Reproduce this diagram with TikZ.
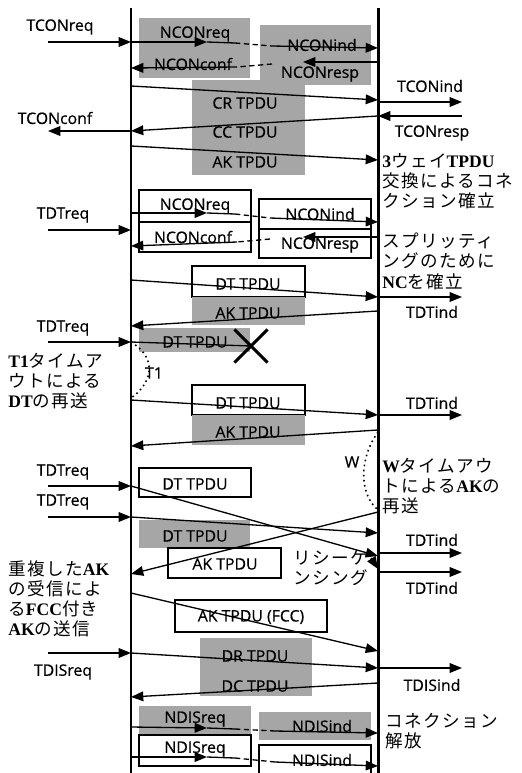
\documentclass[tikz,border=0pt]{standalone}
\usepackage{fontspec}
\usepackage{tikz}
\usetikzlibrary{arrows.meta,shapes.misc}
\setsansfont{Open Sans}[FakeBold=0.6]
\newfontfamily\jpfont{Noto Sans CJK JP}[LetterSpace=8]
\newfontfamily\latfont{Liberation Serif}
\newcommand{\rl}[1]{{\latfont\bfseries #1}}

\tikzset{
  lane/.style={line width=1.7pt},
  msg/.style={line width=0.75pt,-{Triangle[length=7pt,width=5.5pt]}},
  plain/.style={line width=0.75pt},
  dsh/.style={line width=0.75pt,dash pattern=on 3pt off 2pt},
  shade/.style={fill=black!35},
  frame/.style={draw,line width=0.8pt,fill=white},
  lbl/.style={font=\sffamily\fontsize{9}{10}\selectfont,inner sep=0pt},
  note/.style={font=\jpfont\fontsize{10}{11.4}\selectfont,align=left,anchor=north west,inner sep=0pt},
  tmr/.style={line width=0.9pt,dotted}
}

\begin{document}
\begin{tikzpicture}[x=0.02cm,y=-0.02cm]
\useasboundingbox (0,0) rectangle (521,773);

\coordinate (L) at (131,0);
\coordinate (R) at (378,0);
\coordinate (Lo) at (48,0);
\coordinate (Ro) at (462,0);

\fill[shade] (139,18) rectangle (250,78);
\fill[shade] (260,25) rectangle (371,85);
\fill[shade] (192,80) rectangle (305,175);
\draw[frame] (139,190) rectangle (251,222);
\draw[frame] (139,222) rectangle (251,252);
\draw[frame] (259,199) rectangle (371,229);
\draw[frame] (259,229) rectangle (371,258);
\draw[frame] (192,266) rectangle (305,297);
\fill[shade] (192,297) rectangle (305,325);
\fill[shade] (139,328) rectangle (250,352);
\draw[frame] (192,385) rectangle (305,415);
\fill[shade] (192,415) rectangle (305,445);
\draw[frame] (139,468) rectangle (251,497);
\fill[shade] (139,520) rectangle (250,548);
\draw[frame] (168,548) rectangle (281,578);
\draw[frame] (175,600) rectangle (327,632);
\fill[shade] (200,638) rectangle (312,696);
\fill[shade] (139,706) rectangle (251,734);
\fill[shade] (259,712) rectangle (371,740);
\draw[frame] (139,735) rectangle (251,766);
\draw[frame] (259,745) rectangle (371,780);

\draw[lane] (L|-0,8) -- (L|-0,780);
\draw[lane] (R|-0,8) -- (R|-0,780);

\node[lbl] (tconreq) at (60,27) {TCONreq};
\draw[msg] (Lo|-0,42) -- (L|-0,42);
\node[lbl] (ncreq1) at (195,34) {NCONreq};
\node[lbl] (ncind1) at (322,45) {NCONind};
\draw[msg] (L|-0,42) -- (207,42);
\draw[plain] (207,42) -- (235,43);
\draw[dsh] (235,43) -- (272,46);
\draw[msg] (272,46) -- (R|-0,48);
\node[lbl] (ncconf1) at (193,64) {NCONconf};
\node[lbl] (ncresp1) at (320,74) {NCONresp};
\draw[msg] (R|-0,62) -- (303,62);
\draw[dsh] (272,64) -- (237,67);
\draw[msg] (237,67) -- (L|-0,68);

\draw[msg] (L|-0,86) -- (R|-0,100);
\node[lbl] (cr) at (245,103) {CR TPDU};
\node[lbl] (tconind) at (430,86) {TCONind};
\draw[msg] (R|-0,102) -- (Ro|-0,102);
\node[lbl] (tconconf) at (55,118) {TCONconf};
\draw[msg] (L|-0,131) -- (Lo|-0,131);
\draw[msg] (R|-0,116) -- (L|-0,131);
\node[lbl] (cc) at (245,132) {CC TPDU};
\draw[msg] (Ro|-0,116) -- (R|-0,116);
\node[lbl] (tconresp) at (432,133) {TCONresp};
\draw[msg] (L|-0,146) -- (R|-0,160);
\node[lbl] (ak1) at (245,162) {AK TPDU};
\node[note] (threeway) at (382,153) {\rl{3}ウェイ\rl{TPDU}\\交換によるコネ\\クション確立};

\node[lbl] (tdtreq1) at (63,215) {TDTreq};
\draw[msg] (Lo|-0,230) -- (L|-0,230);
\node[lbl] (ncreq2) at (195,206) {NCONreq};
\node[lbl] (ncind2) at (320,214) {NCONind};
\draw[msg] (L|-0,213) -- (207,213);
\draw[plain] (207,213) -- (235,214);
\draw[dsh] (235,214) -- (270,218);
\draw[msg] (270,218) -- (R|-0,222);
\node[lbl] (ncconf2) at (193,237) {NCONconf};
\node[lbl] (ncresp2) at (320,245) {NCONresp};
\draw[msg] (R|-0,237) -- (303,237);
\draw[dsh] (270,239) -- (237,242);
\draw[msg] (237,242) -- (L|-0,246);
\node[note] (split) at (382,233) {スプリッティ\\ングのために\\\rl{NC}を確立};

\draw[msg] (L|-0,280) -- (R|-0,297);
\node[lbl] (dt1) at (248,284) {DT TPDU};
\draw[msg] (R|-0,297) -- (Ro|-0,297);
\node[lbl] (tdtind1) at (432,312) {TDTind};
\draw[msg] (R|-0,311) -- (L|-0,326);
\node[lbl] (ak2) at (248,313) {AK TPDU};
\node[lbl] (tdtreq2) at (63,328) {TDTreq};
\draw[msg] (Lo|-0,342) -- (L|-0,342);
\node[lbl] (dt2) at (195,342) {DT TPDU};
\node[draw,cross out,line width=1.8pt,minimum size=30*0.02cm,inner sep=0pt] (lost) at (251,346) {};
\draw[plain] (L|-0,342) -- (lost.center);
\draw[tmr] (L|-0,342) .. controls (160,360) and (150,385) .. (L|-0,398);
\node[lbl] (t1) at (154,373) {T1};
\node[note] (t1note) at (8,353) {\rl{T1}タイムア\\ウトによる\\\rl{DT}の再送};

\draw[msg] (L|-0,400) -- (R|-0,415);
\node[lbl] (dt3) at (248,403) {DT TPDU};
\node[lbl] (tdtind2) at (432,403) {TDTind};
\draw[msg] (R|-0,415) -- (Ro|-0,415);
\draw[msg] (R|-0,430) -- (L|-0,446);
\node[lbl] (ak3) at (248,432) {AK TPDU};
\draw[tmr] (R|-0,432) .. controls (358,460) and (360,495) .. (R|-0,510);
\node[lbl] (w) at (352,462) {W};
\node[note] (wnote) at (382,458) {\rl{W}タイムアウ\\トによる\rl{AK}の\\再送};

\node[lbl] (tdtreq3) at (63,472) {TDTreq};
\draw[msg] (Lo|-0,486) -- (L|-0,486);
\node[lbl] (dt4) at (195,484) {DT TPDU};
\node[lbl] (tdtreq4) at (63,502) {TDTreq};
\draw[msg] (Lo|-0,517) -- (L|-0,517);
\node[lbl] (dt5) at (195,536) {DT TPDU};
\draw[msg] (L|-0,517) -- (R|-0,533);
\draw[msg] (L|-0,486) -- (R|-0,556);
\draw[msg] (R|-0,512) -- (L|-0,574);
\node[lbl] (ak4) at (225,564) {AK TPDU};
\draw[msg] (371,558) -- (R|-0,569);
\node[lbl] (tdtind3) at (432,540) {TDTind};
\draw[msg] (R|-0,553) -- (Ro|-0,553);
\draw[msg] (R|-0,572) -- (Ro|-0,572);
\node[lbl] (tdtind4) at (432,588) {TDTind};
\node[note] (reseq) at (293,550) {リシーケ\\ンシング};
\node[note] (dupnote) at (8,560) {重複した\rl{AK}\\の受信によ\\る\rl{FCC}付き\\\rl{AK}の送信};

\draw[msg] (L|-0,593) -- (R|-0,651);
\node[lbl] (akfcc) at (251,617) {AK TPDU (FCC)};
\node[lbl] (tdisreq) at (63,672) {TDISreq};
\draw[msg] (Lo|-0,653) -- (L|-0,653);
\draw[msg] (L|-0,653) -- (R|-0,668);
\node[lbl] (dr) at (255,656) {DR TPDU};
\draw[msg] (R|-0,668) -- (Ro|-0,668);
\node[lbl] (tdisind) at (432,685) {TDISind};
\draw[msg] (R|-0,683) -- (L|-0,697);
\node[lbl] (dc) at (255,686) {DC TPDU};

\node[lbl] (ndreq1) at (195,719) {NDISreq};
\node[lbl] (ndind1) at (322,726) {NDISind};
\draw[msg] (L|-0,727) -- (207,728);
\draw[plain] (207,728) -- (235,729);
\draw[dsh] (235,729) -- (275,731);
\draw[msg] (275,731) -- (R|-0,733);
\node[lbl] (ndreq2) at (195,749) {NDISreq};
\node[lbl] (ndind2) at (322,760) {NDISind};
\draw[msg] (L|-0,757) -- (207,757);
\draw[plain] (207,757) -- (235,758);
\draw[dsh] (235,758) -- (275,762);
\draw[msg] (275,762) -- (R|-0,766);
\node[note] (release) at (385,713) {コネクション\\解放};

\end{tikzpicture}
\end{document}
